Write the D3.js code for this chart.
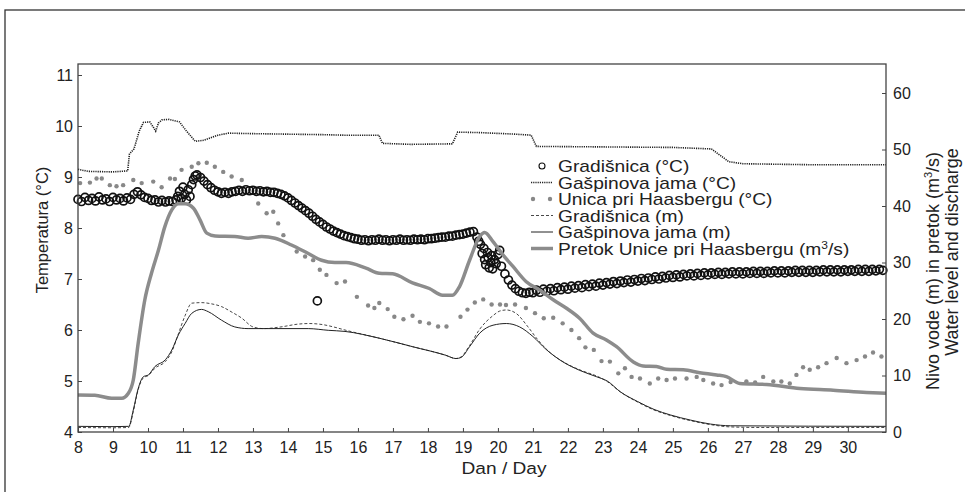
<!DOCTYPE html>
<html>
<head>
<meta charset="utf-8">
<script src="https://cdn.jsdelivr.net/npm/d3@7"></script>
<style>
  body { margin: 0; background: #fff; }
  text { font-family: "Liberation Sans", Arial, sans-serif; fill: #222; }
</style>
</head>
<body>
<script>
// day of month
var dayTicks = [8,9,10,11,12,13,14,15,16,17,18,19,20,21,22,23,24,25,26,27,28,29,30];
var tempTicks = [4,5,6,7,8,9,10,11];
var levelTicks = [0,10,20,30,40,50,60];

// Gradišnica temperature (°C) - open circles
var gradTemp = [
 [8.0,8.56],[8.1,8.52],[8.2,8.60],[8.3,8.54],[8.4,8.58],[8.5,8.53],[8.6,8.61],[8.7,8.55],[8.8,8.57],[8.9,8.52],
 [9.0,8.60],[9.1,8.55],[9.2,8.58],[9.3,8.53],[9.4,8.59],[9.5,8.56],[9.6,8.66],[9.7,8.71],[9.8,8.65],[9.9,8.60],
 [10.0,8.58],[10.1,8.54],[10.2,8.55],[10.3,8.51],[10.4,8.54],[10.5,8.51],[10.6,8.53],[10.7,8.52],[10.8,8.55],
 [10.85,8.62],[10.9,8.72],[10.95,8.58],[11.0,8.80],[11.05,8.66],[11.1,8.55],[11.15,8.75],[11.2,8.62],[11.25,8.85],
 [11.3,8.95],[11.35,9.02],[11.4,9.04],[11.5,8.99],[11.6,8.92],[11.7,8.85],[11.8,8.79],[11.9,8.74],[12.0,8.71],
 [12.1,8.68],[12.2,8.70],[12.3,8.68],[12.4,8.71],[12.5,8.72],[12.6,8.74],[12.7,8.72],[12.8,8.75],[12.9,8.73],
 [13.0,8.74],[13.1,8.72],[13.2,8.73],[13.3,8.71],[13.4,8.72],[13.5,8.70],[13.6,8.70],[13.7,8.68],[13.8,8.66],
 [13.9,8.63],[14.0,8.59],[14.1,8.54],[14.2,8.49],[14.3,8.44],[14.4,8.39],[14.5,8.34],[14.6,8.29],[14.7,8.23],
 [14.8,8.17],[14.84,6.57],[14.9,8.12],[15.0,8.07],[15.1,8.02],[15.2,7.98],[15.3,7.94],[15.4,7.91],[15.5,7.88],
 [15.6,7.85],[15.7,7.83],[15.8,7.81],[15.9,7.79],[16.0,7.78],[16.1,7.76],[16.2,7.77],[16.3,7.75],[16.4,7.77],
 [16.5,7.76],[16.6,7.78],[16.7,7.76],[16.8,7.77],[16.9,7.75],[17.0,7.77],[17.1,7.76],[17.2,7.78],[17.3,7.76],
 [17.4,7.77],[17.5,7.76],[17.6,7.78],[17.7,7.77],[17.8,7.78],[17.9,7.77],[18.0,7.79],[18.1,7.79],[18.2,7.80],
 [18.3,7.81],[18.4,7.82],[18.5,7.82],[18.6,7.84],[18.7,7.84],[18.8,7.86],[18.9,7.87],[19.0,7.88],[19.1,7.90],
 [19.2,7.92],[19.3,7.93],[19.4,7.82],[19.45,7.74],[19.5,7.68],[19.55,7.50],[19.6,7.60],[19.62,7.38],[19.65,7.28],
 [19.7,7.52],[19.72,7.42],[19.75,7.22],[19.8,7.32],[19.82,7.46],[19.85,7.20],[19.9,7.38],[19.95,7.30],[20.0,7.48],
 [20.05,7.56],[20.1,7.25],[20.2,7.10],[20.3,6.98],[20.4,6.88],[20.5,6.81],[20.6,6.76],[20.7,6.73],[20.8,6.72],
 [20.9,6.74],[21.0,6.73],[21.1,6.78],[21.2,6.74],[21.3,6.80],[21.4,6.76],[21.5,6.81],[21.6,6.77],[21.7,6.83],
 [21.8,6.79],[21.9,6.84],[22.0,6.80],[22.1,6.86],[22.2,6.82],[22.3,6.87],[22.4,6.83],[22.5,6.89],[22.6,6.85],
 [22.7,6.90],[22.8,6.86],[22.9,6.92],[23.0,6.88],[23.1,6.93],[23.2,6.90],[23.3,6.95],[23.4,6.91],[23.5,6.96],
 [23.6,6.93],[23.7,6.98],[23.8,6.94],[23.9,6.99],[24.0,6.96],[24.1,7.01],[24.2,6.97],[24.3,7.02],[24.4,6.99],
 [24.5,7.04],[24.6,7.00],[24.7,7.05],[24.8,7.02],[24.9,7.07],[25.0,7.03],[25.1,7.08],[25.2,7.04],[25.3,7.09],
 [25.4,7.06],[25.5,7.10],[25.6,7.06],[25.7,7.11],[25.8,7.07],[25.9,7.12],[26.0,7.08],[26.1,7.12],[26.2,7.09],
 [26.3,7.13],[26.4,7.09],[26.5,7.13],[26.6,7.10],[26.7,7.14],[26.8,7.10],[26.9,7.14],[27.0,7.10],[27.1,7.14],
 [27.2,7.11],[27.3,7.15],[27.4,7.11],[27.5,7.15],[27.6,7.11],[27.7,7.15],[27.8,7.12],[27.9,7.16],[28.0,7.12],
 [28.1,7.16],[28.2,7.12],[28.3,7.16],[28.4,7.13],[28.5,7.17],[28.6,7.13],[28.7,7.17],[28.8,7.13],[28.9,7.17],
 [29.0,7.13],[29.1,7.17],[29.2,7.14],[29.3,7.18],[29.4,7.14],[29.5,7.18],[29.6,7.14],[29.7,7.18],[29.8,7.14],
 [29.9,7.18],[30.0,7.15],[30.1,7.18],[30.2,7.15],[30.3,7.19],[30.4,7.15],[30.5,7.19],[30.6,7.15],[30.7,7.19],
 [30.8,7.16],[30.9,7.19],[31.0,7.17]
];

// Gašpinova jama temperature (°C) - dotted line
var gaspTemp = [
 [8.0,9.15],[8.3,9.11],[9.0,9.10],[9.42,9.12],[9.47,9.45],[9.6,9.55],[9.75,9.90],[9.87,10.07],[10.05,10.08],
 [10.15,9.98],[10.22,9.90],[10.3,10.06],[10.4,10.12],[10.6,10.13],[10.9,10.08],[11.1,9.90],[11.35,9.70],
 [11.6,9.72],[12.0,9.82],[12.3,9.86],[13.0,9.85],[14.0,9.84],[15.0,9.83],[15.6,9.82],[16.6,9.82],[16.7,9.66],
 [17.5,9.64],[18.7,9.65],[18.85,9.88],[19.5,9.87],[20.5,9.84],[20.95,9.82],[21.1,9.60],[23.0,9.59],[25.0,9.58],
 [26.1,9.55],[26.6,9.30],[27.0,9.26],[29.0,9.24],[31.09,9.24]
];

// Unica pri Haasbergu temperature (°C) - grey dots
var unicaTemp = [
 [8.06,8.88],[8.34,8.89],[8.53,8.97],[8.68,8.97],[8.91,8.84],[9.1,8.82],[9.29,8.84],[9.58,8.94],[9.82,8.88],
 [10.15,8.91],[10.39,8.80],[10.63,8.97],[10.77,8.96],[10.96,9.14],[11.25,9.20],[11.44,9.27],[11.68,9.28],
 [11.91,9.20],[12.15,9.10],[12.39,9.01],[12.68,8.94],[13.15,8.48],[13.39,8.29],[13.58,8.32],[13.72,8.09],
 [13.87,7.86],[14.25,7.54],[14.49,7.44],[14.72,7.37],[14.91,7.18],[15.1,7.08],[15.39,6.92],[15.63,6.95],
 [15.97,6.65],[16.29,6.48],[16.47,6.43],[16.61,6.53],[16.85,6.41],[17.04,6.26],[17.3,6.21],[17.56,6.28],
 [17.77,6.16],[18.03,6.13],[18.29,6.07],[18.53,6.07],[18.93,6.26],[19.13,6.40],[19.34,6.54],[19.58,6.60],
 [19.82,6.50],[20.06,6.50],[20.23,6.49],[20.49,6.50],[20.8,6.43],[21.06,6.33],[21.31,6.23],[21.58,6.24],
 [21.85,6.13],[22.1,6.00],[22.32,5.84],[22.5,5.66],[22.74,5.61],[22.96,5.39],[23.2,5.38],[23.44,5.15],
 [23.63,5.25],[23.82,5.08],[24.06,5.05],[24.34,4.95],[24.58,5.05],[24.82,5.02],[25.06,5.05],[25.39,5.05],
 [25.68,5.08],[25.87,5.02],[26.15,4.95],[26.39,4.92],[26.65,4.98],[27.1,4.99],[27.35,4.97],[27.58,5.08],
 [27.87,4.99],[28.1,4.99],[28.34,4.95],[28.53,5.12],[28.72,5.27],[28.91,5.22],[29.15,5.27],[29.39,5.35],
 [29.68,5.45],[29.96,5.35],[30.25,5.41],[30.49,5.48],[30.72,5.56],[30.96,5.48]
];

// Gradišnica water level (m) - dashed
var gradLevel = [
 [8.0,0.8],[9.0,0.75],[9.45,0.8],[9.58,3.6],[9.72,7.5],[9.87,9.6],[10.01,10.0],[10.2,11.3],[10.5,12.5],
 [10.68,14.2],[10.87,17.4],[11.06,20.6],[11.25,22.8],[11.53,22.9],[11.8,22.7],[12.1,22.2],[12.4,21.2],
 [12.67,20.2],[13.0,18.6],[13.3,18.3],[13.8,18.6],[14.3,19.1],[14.6,19.2],[15.0,19.0],[15.3,18.6],[15.66,18.0],
 [16.61,16.6],[17.56,15.1],[18.5,13.6],[18.8,13.0],[18.95,13.3],[19.19,15.3],[19.48,18.2],[19.86,20.6],
 [20.05,21.4],[20.24,21.6],[20.52,21.0],[20.86,18.6],[21.13,16.4],[21.5,14.0],[21.9,12.3],[22.38,10.9],
 [22.86,9.8],[23.13,8.9],[23.5,7.1],[23.99,5.3],[24.46,3.9],[24.94,2.9],[25.51,2.0],[26.08,1.3],[26.65,0.9],
 [27.5,0.8],[31.09,0.8]
];

// Gašpinova jama water level (m) - thin solid
var gaspLevel = [
 [8.0,1.0],[9.0,0.95],[9.45,1.0],[9.58,3.9],[9.72,7.7],[9.87,9.8],[10.01,10.1],[10.2,11.6],[10.5,12.8],
 [10.68,14.5],[10.87,17.2],[11.06,19.2],[11.25,21.0],[11.53,21.7],[11.72,21.3],[12.1,19.8],[12.48,18.6],
 [12.86,18.3],[13.63,18.3],[14.58,18.3],[15.15,18.0],[15.63,17.8],[16.61,16.6],[17.56,15.1],[18.5,13.6],
 [18.8,13.0],[18.95,13.2],[19.19,15.1],[19.48,17.5],[19.86,18.9],[20.24,19.2],[20.62,18.6],[21.0,16.9],
 [21.38,14.6],[21.86,12.4],[22.34,10.9],[22.81,9.8],[23.13,9.0],[23.5,7.1],[23.99,5.4],[24.46,4.0],
 [24.94,3.0],[25.51,2.1],[26.08,1.4],[26.65,1.1],[31.09,1.0]
];

// Unica discharge at Haasberg (m3/s) - thick grey
var unicaFlow = [
 [8.0,6.55],[8.48,6.5],[8.96,5.96],[9.25,5.96],[9.44,6.85],[9.58,9.2],[9.72,15.7],[9.91,23.4],[10.1,28.1],
 [10.3,32.2],[10.48,36.3],[10.68,39.3],[10.87,40.4],[11.06,40.4],[11.3,39.6],[11.49,37.5],[11.68,35.2],
 [11.92,34.7],[12.48,34.6],[12.86,34.3],[13.25,34.6],[13.63,34.3],[14.1,33.1],[14.58,31.6],[14.96,30.4],
 [15.34,30.0],[15.66,30.0],[16.23,29.0],[16.61,28.1],[16.99,28.0],[17.56,26.4],[18.04,25.4],[18.42,24.2],
 [18.7,24.2],[18.9,25.7],[19.19,30.4],[19.48,34.6],[19.62,35.3],[19.86,33.7],[20.15,31.3],[20.43,29.3],
 [20.81,26.6],[21.2,25.1],[21.58,23.4],[21.96,21.9],[22.34,20.1],[22.72,17.5],[23.1,16.3],[23.39,15.1],
 [23.87,12.4],[24.15,11.7],[24.53,11.6],[24.82,11.1],[25.3,11.0],[25.77,10.5],[26.25,10.1],[26.53,9.8],
 [26.91,8.6],[27.68,8.4],[28.63,7.7],[29.58,7.4],[30.53,7.0],[31.09,6.85]
];

var legendNames = ["Gradišnica (°C)", "Gašpinova jama (°C)", "Unica pri Haasbergu (°C)",
                   "Gradišnica (m)", "Gašpinova jama (m)", "Pretok Unice pri Haasbergu (m"];

var W = 965, H = 492;
var plot = {left: 78, right: 886, top: 64, bottom: 432};

var svg = d3.select("body").append("svg")
    .attr("width", W)
    .attr("height", H);

// outer frame of the figure
svg.append("rect")
    .attr("x", 5).attr("y", 10)
    .attr("width", 1000).attr("height", 1000)
    .attr("fill", "none")
    .attr("stroke", "#333")
    .attr("stroke-width", 1.3);

var x = d3.scaleLinear().domain([8, 31.09]).range([plot.left, plot.right]);
var yT = d3.scaleLinear().domain([4, 4 + 368 / 51]).range([plot.bottom, plot.top]);
var yV = d3.scaleLinear().domain([0, 368 / 5.65]).range([plot.bottom, plot.top]);

var g = svg.append("g");

// Gradišnica temperature circles
g.append("g").selectAll("circle")
    .data(gradTemp).enter().append("circle")
    .attr("cx", function(d) { return x(d[0]); })
    .attr("cy", function(d) { return yT(d[1]); })
    .attr("r", 4)
    .attr("fill", "none")
    .attr("stroke", "#111")
    .attr("stroke-width", 1.7);

// Gašpinova jama temperature, dotted
g.append("path")
    .datum(gaspTemp)
    .attr("fill", "none")
    .attr("stroke", "#222")
    .attr("stroke-width", 1.6)
    .attr("stroke-dasharray", "1.2,1")
    .attr("d", d3.line()
        .x(function(d) { return x(d[0]); })
        .y(function(d) { return yT(d[1]); }));

// Unica temperature, grey dots
g.append("g").selectAll("circle")
    .data(unicaTemp).enter().append("circle")
    .attr("cx", function(d) { return x(d[0]); })
    .attr("cy", function(d) { return yT(d[1]); })
    .attr("r", 2.2)
    .attr("fill", "#888");

var levelLine = d3.line()
    .curve(d3.curveMonotoneX)
    .x(function(d) { return x(d[0]); })
    .y(function(d) { return yV(d[1]); });

g.append("path")
    .datum(gradLevel)
    .attr("fill", "none")
    .attr("stroke", "#333")
    .attr("stroke-width", 0.9)
    .attr("stroke-dasharray", "3,2")
    .attr("d", levelLine);

g.append("path")
    .datum(gaspLevel)
    .attr("fill", "none")
    .attr("stroke", "#222")
    .attr("stroke-width", 1.0)
    .attr("d", levelLine);

g.append("path")
    .datum(unicaFlow)
    .attr("fill", "none")
    .attr("stroke", "#8c8c8c")
    .attr("stroke-width", 3.5)
    .attr("d", levelLine);

// plot box
svg.append("rect")
    .attr("x", plot.left).attr("y", plot.top)
    .attr("width", plot.right - plot.left)
    .attr("height", plot.bottom - plot.top)
    .attr("fill", "none")
    .attr("stroke", "#444")
    .attr("stroke-width", 1.3);

// axes, ticks pointing inward
var xAxis = svg.append("g")
    .attr("transform", "translate(0," + plot.bottom + ")")
    .call(d3.axisBottom(x).tickValues(dayTicks).tickSize(-4).tickPadding(9.5).tickFormat(d3.format("d")));
var yAxisL = svg.append("g")
    .attr("transform", "translate(" + plot.left + ",0)")
    .call(d3.axisLeft(yT).tickValues(tempTicks).tickSize(-4).tickPadding(5).tickFormat(d3.format("d")));
var yAxisR = svg.append("g")
    .attr("transform", "translate(" + plot.right + ",0)")
    .call(d3.axisRight(yV).tickValues(levelTicks).tickSize(-4).tickPadding(7).tickFormat(d3.format("d")));

[xAxis, yAxisL, yAxisR].forEach(function(a) {
  a.select(".domain").remove();
  a.selectAll(".tick line").attr("stroke", "#444");
  a.selectAll(".tick text")
      .attr("fill", "#222")
      .style("font-family", '"Liberation Sans", Arial, sans-serif')
      .style("font-size", "16px");
});

// axis titles
svg.append("text")
    .attr("transform", "translate(504,474) scale(1.16,1)")
    .attr("text-anchor", "middle")
    .style("font-size", "16.5px")
    .text("Dan / Day");

svg.append("text")
    .attr("transform", "translate(48,230) rotate(-90)")
    .attr("text-anchor", "middle")
    .style("font-size", "16.5px")
    .text("Temperatura (°C)");

var rt1 = svg.append("text")
    .attr("transform", "translate(939,271) rotate(-90)")
    .attr("text-anchor", "middle")
    .style("font-size", "18px")
    .text("Nivo vode (m) in pretok (m");
rt1.append("tspan").attr("dy", -7).style("font-size", "11px").text("3");
rt1.append("tspan").attr("dy", 7).text("/s)");

svg.append("text")
    .attr("transform", "translate(958,252) rotate(-90)")
    .attr("text-anchor", "middle")
    .style("font-size", "18px")
    .text("Water level and discharge");

// legend
var legY = [166, 182.5, 199, 215.5, 232, 248.5];
var leg = svg.append("g");
legendNames.forEach(function(name, i) {
  var cy = legY[i];
  if (i === 0) {
    leg.append("circle").attr("cx", 542).attr("cy", cy).attr("r", 3)
       .attr("fill", "none").attr("stroke", "#111").attr("stroke-width", 1.1);
  } else if (i === 2) {
    [533, 550].forEach(function(cx) {
      leg.append("circle").attr("cx", cx).attr("cy", cy).attr("r", 2.2).attr("fill", "#888");
    });
  } else {
    var ln = leg.append("line").attr("x1", 531).attr("x2", 553).attr("y1", cy).attr("y2", cy);
    if (i === 1) ln.attr("stroke", "#222").attr("stroke-width", 1.6).attr("stroke-dasharray", "1.2,1");
    if (i === 3) ln.attr("stroke", "#333").attr("stroke-width", 0.9).attr("stroke-dasharray", "3,2");
    if (i === 4) ln.attr("stroke", "#222").attr("stroke-width", 1.0);
    if (i === 5) ln.attr("stroke", "#8c8c8c").attr("stroke-width", 3.5);
  }
  var t = leg.append("text")
      .attr("transform", "translate(558," + (cy + 6) + ") scale(1.2,1)")
      .style("font-size", "16px")
      .text(name);
  if (i === 5) {
    t.append("tspan").attr("dy", -6).style("font-size", "10px").text("3");
    t.append("tspan").attr("dy", 6).text("/s)");
  }
});
</script>
</body>
</html>
